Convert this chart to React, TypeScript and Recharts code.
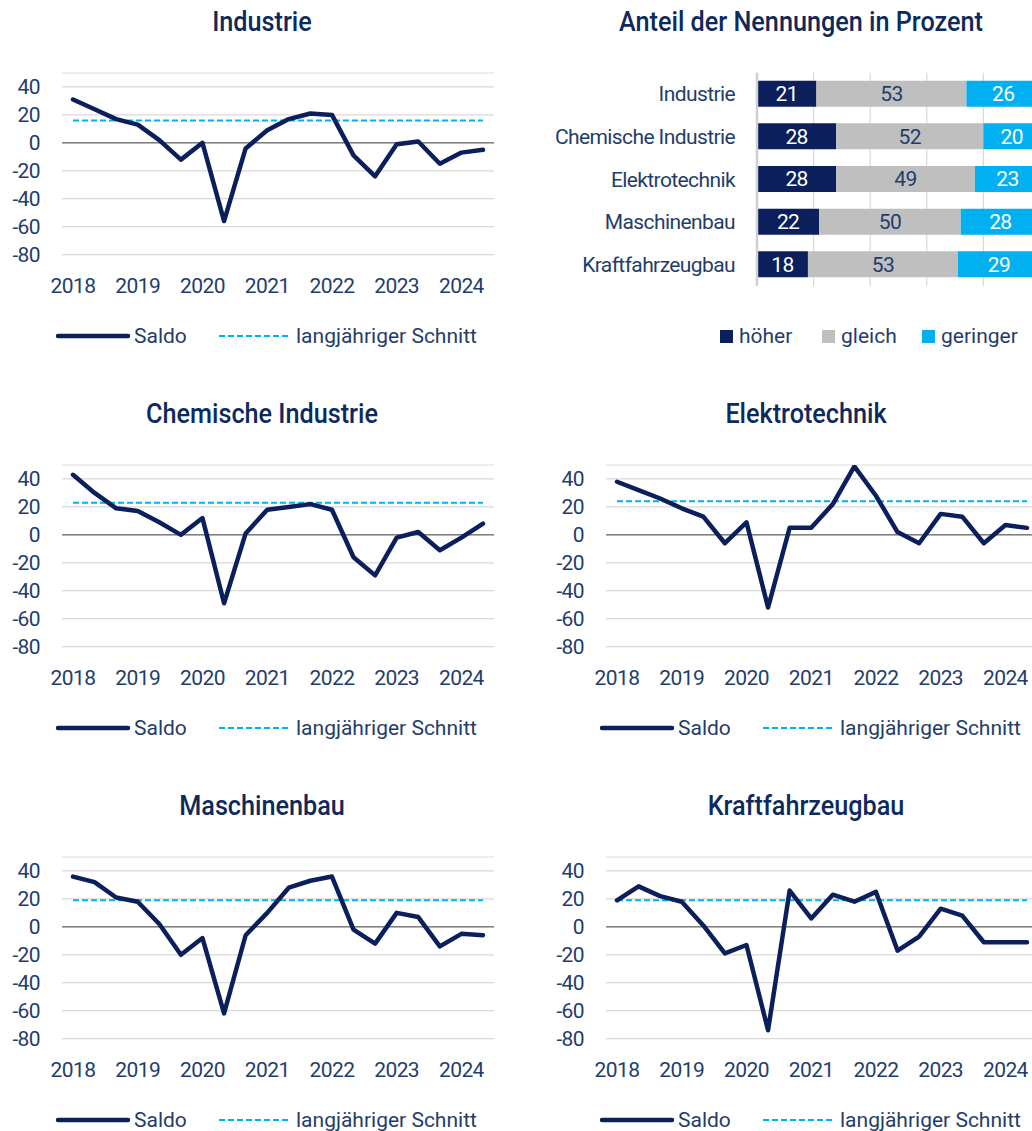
import {
  Bar,
  BarChart,
  CartesianGrid,
  LabelList,
  Line,
  LineChart,
  ReferenceLine,
  XAxis,
  YAxis,
} from 'recharts'

// Umfragezeitpunkte (drei pro Jahr)
const periods = [
  '2018-1', '2018-2', '2018-3',
  '2019-1', '2019-2', '2019-3',
  '2020-1', '2020-2', '2020-3',
  '2021-1', '2021-2', '2021-3',
  '2022-1', '2022-2', '2022-3',
  '2023-1', '2023-2', '2023-3',
  '2024-1', '2024-2',
]

const industrie = [31, 24, 17, 13, 2, -12, 0, -56, -4, 9, 17, 21, 20, -9, -24, -1, 1, -15, -7, -5]
const chemie = [43, 30, 19, 17, 9, 0, 12, -49, 1, 18, 20, 22, 18, -16, -29, -2, 2, -11, -2, 8]
const elektro = [38, 32, 26, 19, 13, -6, 9, -52, 5, 5, 22, 49, 28, 2, -6, 15, 13, -6, 7, 5]
const maschinenbau = [36, 32, 21, 18, 2, -20, -8, -62, -6, 10, 28, 33, 36, -2, -12, 10, 7, -14, -5, -6]
const kfz = [19, 29, 22, 18, 1, -19, -13, -74, 26, 6, 23, 18, 25, -17, -7, 13, 8, -11, -11, -11]

// langjähriger Schnitt je Branche
const schnitt = [16, 23, 24, 19, 19]

const yTicks = [-80, -60, -40, -20, 0, 20, 40]

// Anteil der Nennungen in Prozent
const branchen = ['Industrie', 'Chemische Industrie', 'Elektrotechnik', 'Maschinenbau', 'Kraftfahrzeugbau']
const hoeher = [21, 28, 28, 22, 18]
const gleich = [53, 52, 49, 50, 53]
const geringer = [26, 20, 23, 28, 29]

const NAVY = '#0b1f5c'
const CYAN = '#00b0f0'
const GREY = '#bfbfbf'
const TEXT = '#1f3d6b'
const TITLE = '#0d2a5c'
const FONT = 'Roboto, sans-serif'

function Title({ text, left, top, width }: { text: string; left: number; top: number; width: number }) {
  return (
    <div
      style={{
        position: 'absolute',
        left,
        top,
        width,
        height: 30,
        lineHeight: '30px',
        textAlign: 'center',
        fontSize: 28,
        fontWeight: 500,
        color: TITLE,
        transform: 'scaleX(0.9)',
        whiteSpace: 'nowrap',
      }}
    >
      {text}
    </div>
  )
}

function SaldoPanel({
  title,
  values,
  avg,
  left,
  top,
}: {
  title: string
  values: number[]
  avg: number
  left: number
  top: number
}) {
  const data = periods.map((period, i) => ({ period, saldo: values[i], avg }))
  const tickStyle = { fill: TEXT, fontSize: 21, letterSpacing: -0.6 }
  const legendText = {
    position: 'absolute' as const,
    top: 326,
    height: 20,
    lineHeight: '20px',
    fontSize: 21,
    color: TEXT,
    whiteSpace: 'nowrap' as const,
  }
  return (
    <div style={{ position: 'absolute', left, top, width: 524, height: 392 }}>
      <Title text={title} left={0} top={7} width={524} />
      <div style={{ position: 'absolute', left: 0, top: 62.7 }}>
        <LineChart
          width={524}
          height={241.6}
          data={data}
          margin={{ top: 10, right: 30, bottom: 0, left: 0 }}
          accessibilityLayer={false}
        >
          <CartesianGrid vertical={false} stroke="#d9d9d9" strokeWidth={1.2} />
          <XAxis
            dataKey="period"
            interval={2}
            tickFormatter={(v: string) => v.slice(0, 4)}
            axisLine={false}
            tickLine={false}
            tickSize={0}
            tickMargin={23}
            height={50}
            padding={{ left: 11, right: 11 }}
            tick={tickStyle}
          />
          <YAxis
            domain={[-80, 50]}
            ticks={yTicks}
            interval={0}
            allowDataOverflow
            axisLine={false}
            tickLine={false}
            tickSize={0}
            tickMargin={22}
            width={62}
            tick={tickStyle}
          />
          <ReferenceLine y={0} stroke="#7f7f7f" strokeWidth={1.5} />
          <Line
            type="linear"
            dataKey="avg"
            stroke={CYAN}
            strokeWidth={2}
            strokeDasharray="6 3"
            dot={false}
            isAnimationActive={false}
          />
          <Line
            type="linear"
            dataKey="saldo"
            stroke={NAVY}
            strokeWidth={4.5}
            strokeLinejoin="round"
            strokeLinecap="round"
            dot={false}
            isAnimationActive={false}
          />
        </LineChart>
      </div>
      <svg style={{ position: 'absolute', left: 0, top: 326 }} width={300} height={20}>
        <line x1={58} y1={10} x2={128} y2={10} stroke={NAVY} strokeWidth={4.5} strokeLinecap="round" />
        <line x1={219} y1={10} x2={288} y2={10} stroke={CYAN} strokeWidth={2} strokeDasharray="6 3" />
      </svg>
      <div style={{ ...legendText, left: 134 }}>Saldo</div>
      <div style={{ ...legendText, left: 296 }}>langjähriger Schnitt</div>
    </div>
  )
}

function AnteilPanel() {
  const data = branchen.map((branche, i) => ({
    branche,
    hoeher: hoeher[i],
    gleich: gleich[i],
    geringer: geringer[i],
  }))
  const labelStyle = { fontSize: 21, letterSpacing: -0.6 }
  const legend = [
    { name: 'höher', color: NAVY, x: 720 },
    { name: 'gleich', color: GREY, x: 822 },
    { name: 'geringer', color: CYAN, x: 922 },
  ]
  return (
    <>
      <Title text="Anteil der Nennungen in Prozent" left={540} top={7} width={522} />
      <div style={{ position: 'absolute', left: 540, top: 60 }}>
        <BarChart
          layout="vertical"
          width={500}
          height={231}
          data={data}
          margin={{ top: 12.7, right: 0, bottom: 5, left: 0 }}
          barCategoryGap={0}
          accessibilityLayer={false}
        >
          <CartesianGrid horizontal={false} stroke="#d9d9d9" strokeWidth={1.2} />
          <XAxis type="number" domain={[0, 100]} ticks={[0, 20, 40, 60, 80, 100]} hide />
          <YAxis
            type="category"
            dataKey="branche"
            width={217}
            interval={0}
            axisLine={{ stroke: '#d0d0d0', strokeWidth: 2.5 }}
            tickLine={false}
            tickSize={0}
            tickMargin={22}
            tick={{ fill: TEXT, fontSize: 21, letterSpacing: -0.6 }}
          />
          <Bar dataKey="hoeher" stackId="a" fill={NAVY} barSize={26} isAnimationActive={false}>
            <LabelList dataKey="hoeher" position="center" fill="#ffffff" style={labelStyle} />
          </Bar>
          <Bar dataKey="gleich" stackId="a" fill={GREY} barSize={26} isAnimationActive={false}>
            <LabelList dataKey="gleich" position="center" fill={TEXT} style={labelStyle} />
          </Bar>
          <Bar dataKey="geringer" stackId="a" fill={CYAN} barSize={26} isAnimationActive={false}>
            <LabelList dataKey="geringer" position="center" fill="#ffffff" style={labelStyle} />
          </Bar>
        </BarChart>
      </div>
      {legend.map((item) => (
        <div key={item.name}>
          <div
            style={{ position: 'absolute', left: item.x, top: 330, width: 13, height: 13, background: item.color }}
          />
          <div
            style={{ position: 'absolute', left: item.x + 19, top: 326, height: 20, lineHeight: '20px', fontSize: 21, color: TEXT }}
          >
            {item.name}
          </div>
        </div>
      ))}
    </>
  )
}

export default function App() {
  return (
    <div
      style={{
        position: 'absolute',
        left: 0,
        top: 0,
        width: 1032,
        height: 1131,
        overflow: 'hidden',
        background: '#ffffff',
        fontFamily: FONT,
      }}
    >
      <SaldoPanel title="Industrie" values={industrie} avg={schnitt[0]} left={0} top={0} />
      <AnteilPanel />
      <SaldoPanel title="Chemische Industrie" values={chemie} avg={schnitt[1]} left={0} top={392} />
      <SaldoPanel title="Elektrotechnik" values={elektro} avg={schnitt[2]} left={544} top={392} />
      <SaldoPanel title="Maschinenbau" values={maschinenbau} avg={schnitt[3]} left={0} top={784} />
      <SaldoPanel title="Kraftfahrzeugbau" values={kfz} avg={schnitt[4]} left={544} top={784} />
    </div>
  )
}
